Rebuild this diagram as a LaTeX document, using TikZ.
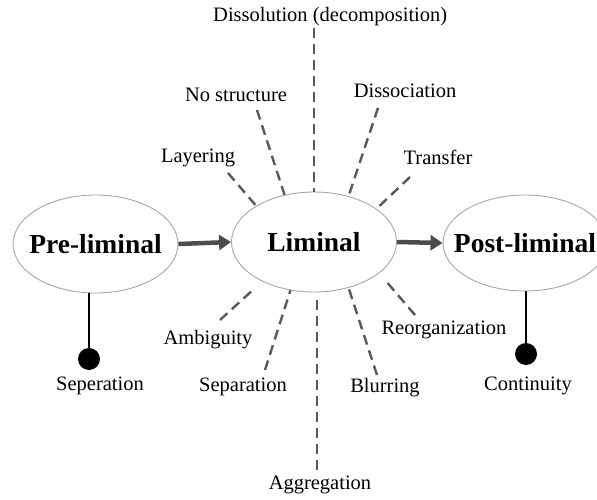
\documentclass[tikz,border=0pt]{standalone}
\usepackage{fontspec}
\setmainfont{Liberation Serif}
\usetikzlibrary{shapes.geometric,arrows.meta}
\tikzset{
  phase/.style={ellipse, draw=black!35, line width=0.9pt, inner sep=0pt,
    font=\fontsize{27.5}{30}\selectfont\bfseries},
  flow/.style={draw=black!70, line width=4.5pt,
    -{Triangle[length=12pt,width=15pt]}},
  ray/.style={draw=black!65, line width=2.4pt, dash pattern=on 10pt off 6pt},
  stem/.style={draw=black, line width=1.8pt},
  dot/.style={circle, fill=black, minimum size=22pt, inner sep=0pt},
  lbl/.style={font=\fontsize{20.5}{23}\selectfont, inner sep=1pt}
}
% phase name centred without widening its ellipse
\newcommand{\phasename}[1]{\makebox[0pt]{#1}}
\begin{document}
\begin{tikzpicture}[x=1pt,y=-1pt]
\useasboundingbox (0,0) rectangle (597,500);
\clip (0,0) rectangle (597,500);

% the three phases
\node[phase, minimum width=165pt, minimum height=98pt] (pre) at (95.5,244) {\phasename{Pre-liminal}};
\node[phase, minimum width=165pt, minimum height=100pt] (lim) at (314,242) {\phasename{Liminal}};
\node[phase, minimum width=164pt, minimum height=96pt] (post) at (525,243) {\phasename{Post-liminal}};

% transitions between phases
\draw[flow] (pre.east) -- (lim.west);
\draw[flow] (lim.east) -- (post.west);

% stems with end dots
\node[dot] (dpre) at (89,359) {};
\node[dot] (dpost) at (526,354) {};
\draw[stem] (dpre.center) -- (dpre.center |- pre.south);
\draw[stem] (dpost.center) -- (dpost.center |- post.south);
\node[lbl] (tsep1) at (100,386) {Seperation};
\node[lbl] (tcont) at (528,386) {Continuity};

% labels around the liminal phase
\node[lbl, anchor=west] (tdiss) at (212,17) {Dissolution (decomposition)};
\node[lbl] (tnost) at (236,95) {No structure};
\node[lbl] (tdisc) at (405,91) {Dissociation};
\node[lbl] (tlay) at (198,158) {Layering};
\node[lbl] (ttra) at (438,157) {Transfer};
\node[lbl] (tamb) at (208,340) {Ambiguity};
\node[lbl] (tsep2) at (243,387) {Separation};
\node[lbl] (tagg) at (320,485) {Aggregation};
\node[lbl] (tblur) at (385,388) {Blurring};
\node[lbl] (treo) at (444,330) {Reorganization};

% ray end points
\coordinate (rdiss) at (314,28);
\coordinate (rnost) at (257,110);
\coordinate (rdisc) at (378,108);
\coordinate (rlay) at (228,173);
\coordinate (rtra) at (410,177);
\coordinate (ramb) at (220,320);
\coordinate (ramb0) at (255,288);
\coordinate (rsep) at (265,370);
\coordinate (ragg) at (317,470);
\coordinate (ragg0) at (317,300);
\coordinate (rblur) at (377,375);
\coordinate (rreo) at (415,315);
\coordinate (rreo0) at (385,280);

% dashed rays
\draw[ray] (rdiss) -- (lim.90);
\draw[ray] (rnost) -- (lim.122.6);
\draw[ray] (rdisc) -- (lim.53.7);
\draw[ray] (rlay) -- (lim.148.4);
\draw[ray] (rtra) -- (lim.28.4);
\draw[ray] (ramb) -- (ramb0);
\draw[ray] (rsep) -- (lim.-116);
\draw[ray] (ragg) -- (ragg0);
\draw[ray] (rblur) -- (lim.-53);
\draw[ray] (rreo) -- (rreo0);
\end{tikzpicture}
\end{document}
